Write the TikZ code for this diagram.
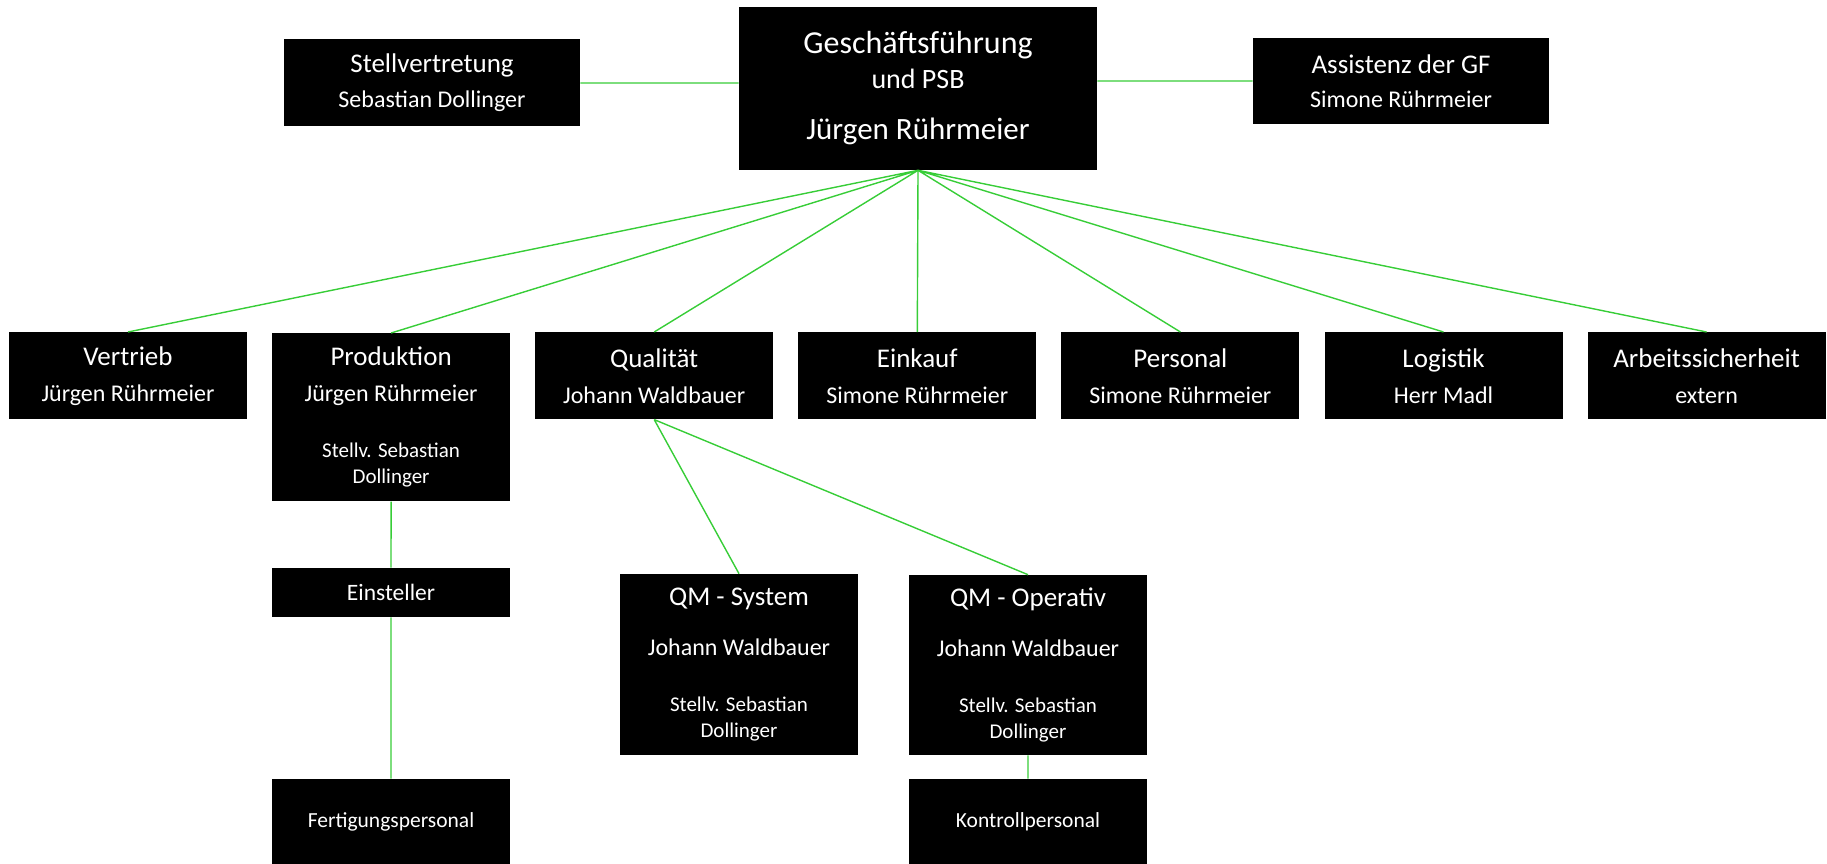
\documentclass[tikz,border=0pt]{standalone}
\usepackage{fontspec}
\setmainfont{Carlito}
\usetikzlibrary{positioning}

\definecolor{linegreen}{RGB}{55,205,55}

\begin{document}
\begin{tikzpicture}[x=1pt,y=-1pt,semithick,node distance=24.5pt]
  \tikzstyle{unit}=[fill=black,text=white,inner sep=0pt,align=center,
    minimum width=238pt,minimum height=87pt,font=\fontsize{24}{26}\selectfont]
  \tikzstyle{link}=[draw=linegreen,line width=1.4pt]
  \newcommand{\headline}[1]{{\fontsize{27}{26}\selectfont #1}}
  \newcommand{\deputy}[1]{{\fontsize{21}{26}\selectfont #1}}
  \useasboundingbox (0,0) rectangle (1827,864);

  % top level
  \node[unit,minimum width=358pt,minimum height=163pt] (gf) at (918,88.5)
    {{\fontsize{32}{36}\selectfont Geschäftsführung}\\[9pt]
     {\fontsize{28}{32}\selectfont und PSB}\\[25pt]
     {\fontsize{31}{36}\selectfont Jürgen Rührmeier}};
  \node[unit,minimum width=296pt] (stv) at (432,83)
    {\headline{Stellvertretung}\\[9pt] Sebastian Dollinger};
  \node[unit,minimum width=296pt,minimum height=86pt] (gfass) at (1401,81)
    {\headline{Assistenz der GF}\\[8pt] Simone Rührmeier};

  % departments
  \node[unit,anchor=north] (vertrieb) at (128,332)
    {\headline{Vertrieb}\\[10pt] Jürgen Rührmeier};
  \node[unit,minimum height=168pt,right=of vertrieb.north east,anchor=north west,yshift=-1pt] (produktion)
    {\headline{Produktion}\\[10pt] Jürgen Rührmeier\\[30pt]
     \deputy{Stellv. Sebastian}\\
     \deputy{Dollinger}};
  \node[unit,right=of produktion.north east,anchor=north west,yshift=1pt] (qualitaet)
    {\headline{Qualität}\\[10pt] Johann Waldbauer};
  \node[unit,right=of qualitaet] (einkauf)
    {\headline{Einkauf}\\[10pt] Simone Rührmeier};
  \node[unit,right=of einkauf] (personal)
    {\headline{Personal}\\[10pt] Simone Rührmeier};
  \node[unit,right=of personal] (logistik)
    {\headline{Logistik}\\[10pt] Herr Madl};
  \node[unit,right=of logistik] (arbsich)
    {\headline{Arbeitssicherheit}\\[10pt] extern};

  % below
  \node[unit,minimum height=49pt,font=\fontsize{23.5}{26}\selectfont] (einsteller) at (391,592.5) {Einsteller};
  \node[unit,minimum height=86pt,font=\fontsize{21.5}{26}\selectfont] (fertigung) at (391,822) {Fertigungspersonal};
  \node[unit,minimum height=181pt] (qmsystem) at (739,664.5)
    {\headline{QM - System}\\[24pt] Johann Waldbauer\\[30pt]
     \deputy{Stellv. Sebastian}\\
     \deputy{Dollinger}};
  \node[unit,minimum height=180pt] (qmoperativ) at (1028,665)
    {\headline{QM - Operativ}\\[24pt] Johann Waldbauer\\[30pt]
     \deputy{Stellv. Sebastian}\\
     \deputy{Dollinger}};
  \node[unit,minimum height=86pt,font=\fontsize{21.5}{26}\selectfont] (kontrolle) at (1028,822) {Kontrollpersonal};

  \path[link]
  (stv.east) -- (stv.east -| gf.west)
  (gfass.west) -- (gfass.west -| gf.east)
  (gf.south) -- (vertrieb.north)
  (gf.south) -- (produktion.north)
  (gf.south) -- (qualitaet.north)
  (gf.south) -- (einkauf.north)
  (gf.south) -- (personal.north)
  (gf.south) -- (logistik.north)
  (gf.south) -- (arbsich.north)
  (produktion.south) -- (einsteller.north)
  (einsteller.south) -- (fertigung.north)
  (qualitaet.south) -- (qmsystem.north)
  (qualitaet.south) -- (qmoperativ.north)
  (qmoperativ.south) -- (kontrolle.north);
\end{tikzpicture}
\end{document}
